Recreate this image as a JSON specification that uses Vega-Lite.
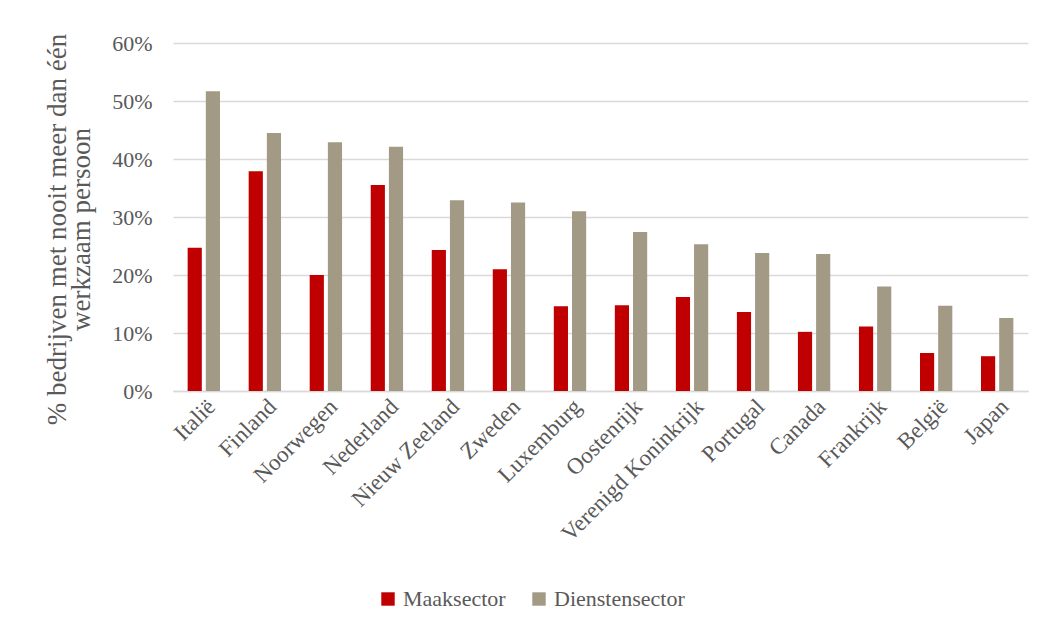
{
  "$schema": "https://vega.github.io/schema/vega-lite/v6.json",
  "width": 855,
  "height": 348,
  "autosize": {"type": "none"},
  "padding": {"left": 173, "top": 43, "right": 15, "bottom": 239},
  "background": "white",
  "config": {
    "font": "Liberation Serif",
    "view": {"stroke": null},
    "axis": {"labelColor": "#595959", "titleColor": "#595959", "labelFont": "Liberation Serif", "titleFont": "Liberation Serif"},
    "legend": {"labelFont": "Liberation Serif", "titleFont": "Liberation Serif"}
  },
  "data": {
    "values": [
      {"land": "Italië", "sector": "Maaksector", "waarde": 0.247},
      {"land": "Italië", "sector": "Dienstensector", "waarde": 0.517},
      {"land": "Finland", "sector": "Maaksector", "waarde": 0.379},
      {"land": "Finland", "sector": "Dienstensector", "waarde": 0.445},
      {"land": "Noorwegen", "sector": "Maaksector", "waarde": 0.200},
      {"land": "Noorwegen", "sector": "Dienstensector", "waarde": 0.429},
      {"land": "Nederland", "sector": "Maaksector", "waarde": 0.355},
      {"land": "Nederland", "sector": "Dienstensector", "waarde": 0.421},
      {"land": "Nieuw Zeeland", "sector": "Maaksector", "waarde": 0.243},
      {"land": "Nieuw Zeeland", "sector": "Dienstensector", "waarde": 0.329},
      {"land": "Zweden", "sector": "Maaksector", "waarde": 0.210},
      {"land": "Zweden", "sector": "Dienstensector", "waarde": 0.325},
      {"land": "Luxemburg", "sector": "Maaksector", "waarde": 0.146},
      {"land": "Luxemburg", "sector": "Dienstensector", "waarde": 0.310},
      {"land": "Oostenrijk", "sector": "Maaksector", "waarde": 0.148},
      {"land": "Oostenrijk", "sector": "Dienstensector", "waarde": 0.274},
      {"land": "Verenigd Koninkrijk", "sector": "Maaksector", "waarde": 0.162},
      {"land": "Verenigd Koninkrijk", "sector": "Dienstensector", "waarde": 0.253},
      {"land": "Portugal", "sector": "Maaksector", "waarde": 0.136},
      {"land": "Portugal", "sector": "Dienstensector", "waarde": 0.238},
      {"land": "Canada", "sector": "Maaksector", "waarde": 0.102},
      {"land": "Canada", "sector": "Dienstensector", "waarde": 0.236},
      {"land": "Frankrijk", "sector": "Maaksector", "waarde": 0.111},
      {"land": "Frankrijk", "sector": "Dienstensector", "waarde": 0.180},
      {"land": "België", "sector": "Maaksector", "waarde": 0.0655},
      {"land": "België", "sector": "Dienstensector", "waarde": 0.147},
      {"land": "Japan", "sector": "Maaksector", "waarde": 0.060},
      {"land": "Japan", "sector": "Dienstensector", "waarde": 0.126}
    ]
  },
  "mark": {"type": "bar"},
  "encoding": {
    "x": {
      "field": "land", "type": "nominal", "sort": null,
      "scale": {"paddingInner": 0.47, "paddingOuter": 0.24},
      "axis": {
        "title": null, "labelAngle": -45, "labelAlign": "right", "labelBaseline": "top",
        "labelFontSize": 23, "labelPadding": 4, "ticks": false, "labelOverlap": false, "labelLimit": 400,
        "domainColor": "#D9D9D9", "domainWidth": 1.5, "grid": false
      }
    },
    "xOffset": {
      "field": "sector", "type": "nominal", "sort": ["Maaksector", "Dienstensector"],
      "scale": {"paddingInner": 0.22, "paddingOuter": 0}
    },
    "y": {
      "field": "waarde", "type": "quantitative",
      "scale": {"domain": [0, 0.6]},
      "axis": {
        "format": ".0%", "values": [0, 0.1, 0.2, 0.3, 0.4, 0.5, 0.6], "labelOverlap": false,
        "title": ["% bedrijven met nooit meer dan één", "werkzaam persoon"],
        "titleFontSize": 27, "titleFontWeight": "normal", "titleLineHeight": 24,
        "titlePadding": 16, "titleY": 186,
        "labelFontSize": 22, "labelPadding": 21, "ticks": false, "domain": false,
        "gridColor": "#D9D9D9", "gridWidth": 1.5
      }
    },
    "color": {
      "field": "sector", "type": "nominal",
      "sort": ["Maaksector", "Dienstensector"],
      "scale": {"domain": ["Maaksector", "Dienstensector"], "range": ["#C00000", "#A39A86"]},
      "legend": {
        "title": null, "orient": "none", "direction": "horizontal",
        "legendX": 204, "legendY": 545,
        "symbolType": "square", "symbolSize": 180, "symbolStrokeWidth": 0,
        "labelFontSize": 22, "labelColor": "#595959", "columnPadding": 22, "labelOffset": 4
      }
    }
  }
}
